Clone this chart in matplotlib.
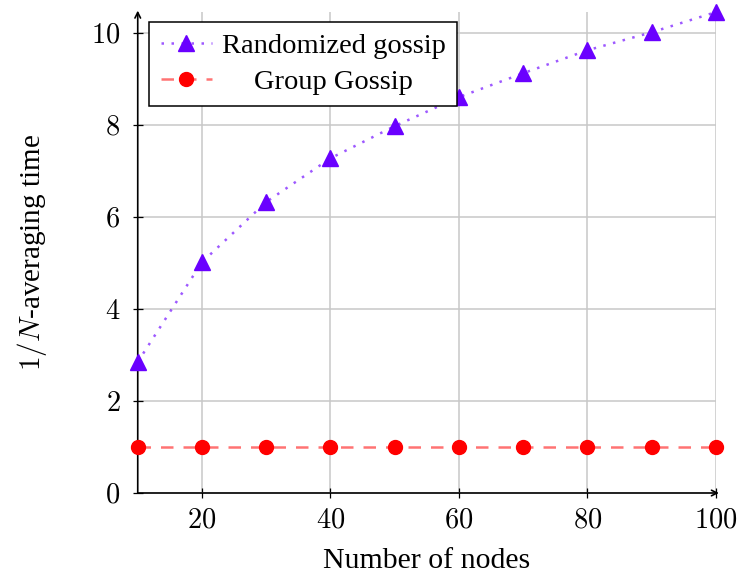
import matplotlib
matplotlib.use("Agg")
import matplotlib.pyplot as plt
from matplotlib.ticker import FuncFormatter

plt.rcParams["font.family"] = ["Liberation Serif", "DejaVu Serif"]
plt.rcParams["mathtext.fontset"] = "cm"

# data
nodes = [10, 20, 30, 40, 50, 60, 70, 80, 90, 100]
randomized = [2.85, 5.02, 6.33, 7.28, 7.98, 8.61, 9.13, 9.63, 10.02, 10.46]
group = [1, 1, 1, 1, 1, 1, 1, 1, 1, 1]
xticks = [20, 40, 60, 80, 100]
yticks = [0, 2, 4, 6, 8, 10]

violet = "#6a00ff"
red = "#ff0000"

fig = plt.figure(figsize=(7.51, 5.74), dpi=100)
ax = fig.add_axes([0.1834, 0.1411, 0.77, 0.8379])

# lines drawn a bit lighter than the markers
l1, = ax.plot(nodes, randomized, ls=(0, (1, 3)), lw=1.8, color=violet, alpha=0.65, zorder=3)
m1, = ax.plot(nodes, randomized, ls="none", marker="^", ms=11, color=violet, zorder=4, clip_on=False)
l2, = ax.plot(nodes, group, ls=(0, (5, 4)), lw=1.8, color=red, alpha=0.55, zorder=3)
m2, = ax.plot(nodes, group, ls="none", marker="o", ms=10, color=red, zorder=4, clip_on=False)

ax.set_xlim(10, 100)
ax.set_ylim(0, 10.46)
ax.set_xticks(xticks)
ax.set_yticks(yticks)
fmt = FuncFormatter(lambda v, p: f"${v:g}$")
ax.xaxis.set_major_formatter(fmt)
ax.yaxis.set_major_formatter(fmt)
ax.tick_params(direction="inout", length=7, width=0.9, labelsize=20.5)
ax.tick_params(axis="x", pad=8)
ax.tick_params(axis="y", pad=9)

ax.grid(True, color="#c8c8c8", lw=1.1)
ax.set_axisbelow(True)
for s in ["top", "right", "left", "bottom"]:
    ax.spines[s].set_visible(False)

# axis lines with open arrow heads (pgfplots style)
ax.annotate("", xy=(1.005, 0), xytext=(0, 0), xycoords="axes fraction",
            arrowprops=dict(arrowstyle="->", lw=1.2, color="black", shrinkA=0, shrinkB=0))
ax.annotate("", xy=(0, 1.003), xytext=(0, 0), xycoords="axes fraction",
            arrowprops=dict(arrowstyle="->", lw=1.2, color="black", shrinkA=0, shrinkB=0))

ax.set_xlabel("Number of nodes", fontsize=21.5, labelpad=10)
ax.set_ylabel("$1/N$-averaging time", fontsize=21, labelpad=30)

leg = ax.legend([(l1, m1), (l2, m2)], ["Randomized gossip", "Group Gossip"],
                loc="upper left", bbox_to_anchor=(0.02, 0.98), borderaxespad=0,
                fontsize=20.5, fancybox=False, framealpha=1, edgecolor="black",
                handlelength=1.8, handletextpad=0.35, borderpad=0.4, labelspacing=0.35)
leg.get_frame().set_linewidth(1.1)

# centre the legend labels like the original
fig.canvas.draw()
texts = leg.get_texts()
widths = [t.get_window_extent().width for t in texts]
for t, w in zip(texts, widths):
    t.set_x((max(widths) - w) / 2)

fig.savefig("out.png", dpi=100)
